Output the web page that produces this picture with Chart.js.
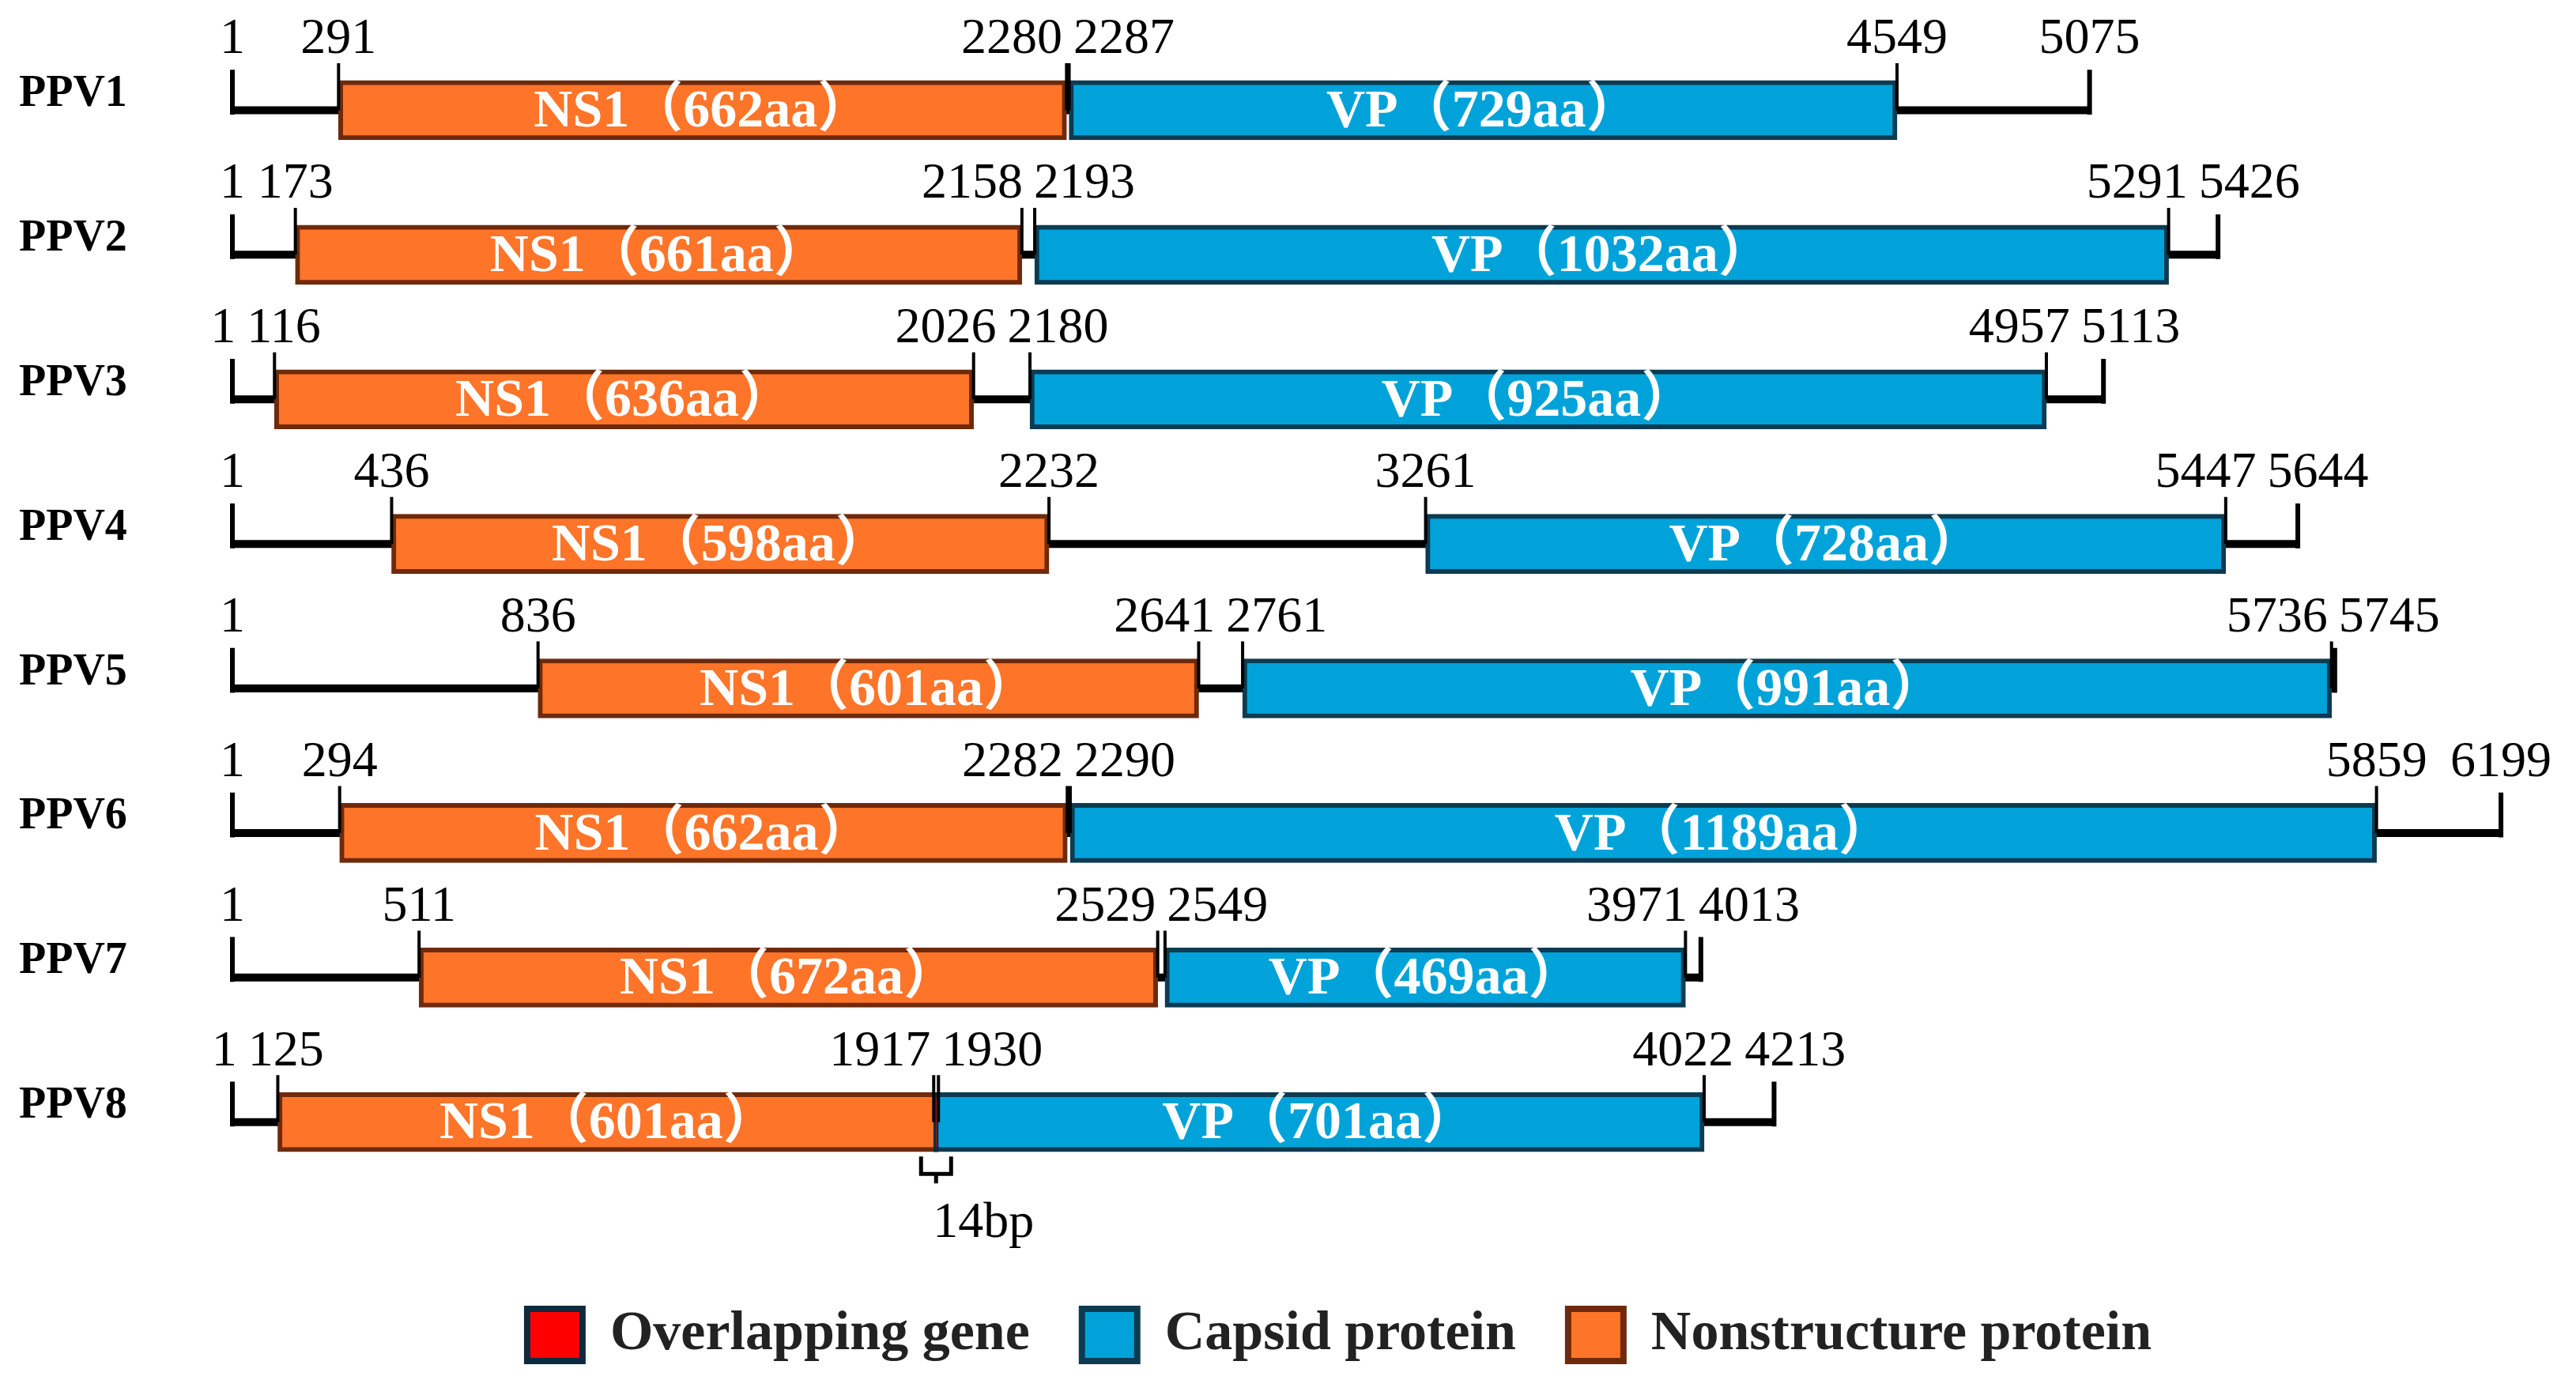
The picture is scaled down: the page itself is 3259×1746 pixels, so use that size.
<!DOCTYPE html>
<html><head><meta charset="utf-8">
<script src="https://cdn.jsdelivr.net/npm/chart.js@4.4.1/dist/chart.umd.min.js"></script>
<style>html,body{margin:0;padding:0;background:#fff}#wrap{width:3259px;height:1746px;position:relative}</style>
</head><body><div id="wrap"><canvas id="c"></canvas></div>
<script>
// ---- data ----
const rows = ['PPV1','PPV2','PPV3','PPV4','PPV5','PPV6','PPV7','PPV8'];
const genomeLength = [5075,5426,5113,5644,5745,6199,4013,4213];
const ns1Start = [291,173,116,436,836,294,511,125];
const ns1End   = [2280,2158,2026,2232,2641,2282,2529,1930];
const ns1Length = [662,661,636,598,601,662,672,601];
const vpStart  = [2287,2193,2180,3261,2761,2290,2549,1917];
const vpEnd    = [4549,5291,4957,5447,5736,5859,3971,4022];
const vpLength = [729,1032,925,728,991,1189,469,701];
const overlapRow = ['PPV8'];
const overlapStart = [1917];
const overlapEnd = [1930];
const overlapLabel = ['14bp'];
const legendLabels = ['Overlapping gene','Capsid protein','Nonstructure protein'];

// ---- styles ----
const ORANGE = '#FE7429', ORANGE_EDGE = '#6E2A0B';
const BLUE = '#00A3D9', BLUE_EDGE = '#0C3B52';
const RED = '#FF0000', RED_EDGE = '#0D2B3E';
const SERIF = "'Liberation Serif','Times New Roman','Noto Sans CJK SC',serif";
const TICK_RISE = 0.325, END_RISE = 0.28, END_DROP = 0.03;

const rowVal = i => i + 1;

function tickLine(getPos, rise, drop) {
  const pts = [];
  rows.forEach((r, i) => {
    getPos(i).forEach(p => {
      pts.push({x: p, y: rowVal(i) - rise}, {x: p, y: rowVal(i) + drop}, {x: null, y: rowVal(i)});
    });
  });
  return pts;
}

const backbone = [];
rows.forEach((r, i) => {
  backbone.push({x: 1, y: rowVal(i)}, {x: genomeLength[i], y: rowVal(i)}, {x: null, y: rowVal(i)});
});

const lineCommon = {type: 'line', borderColor: '#000', pointRadius: 0, pointHoverRadius: 0, spanGaps: false, fill: false, tension: 0, borderCapStyle: 'butt'};

const datasets = [
  {label: legendLabels[0], type: 'bar', data: overlapRow.map((r, k) => ({y: rows.indexOf(r) + 1, x: [overlapStart[k], overlapEnd[k]]})),
   backgroundColor: RED, borderColor: RED_EDGE, borderWidth: 6, borderSkipped: false, barThickness: 75, grouped: false, order: 1},
  {label: legendLabels[1], type: 'bar', data: rows.map((r, i) => ({y: rowVal(i), x: [vpStart[i], vpEnd[i]]})),
   backgroundColor: BLUE, borderColor: BLUE_EDGE, borderWidth: 6, borderSkipped: false, barThickness: 75, grouped: false, order: 2},
  {label: legendLabels[2], type: 'bar', data: rows.map((r, i) => ({y: rowVal(i), x: [ns1Start[i], ns1End[i]]})),
   backgroundColor: ORANGE, borderColor: ORANGE_EDGE, borderWidth: 6, borderSkipped: false, barThickness: 75, grouped: false, order: 3},
  Object.assign({label: 'backbone', data: backbone, borderWidth: 10, order: 10}, lineCommon),
  Object.assign({label: 'ends', data: tickLine(i => [1, genomeLength[i]], END_RISE, END_DROP), borderWidth: 6, order: 0}, lineCommon),
  Object.assign({label: 'bounds', data: tickLine(i => [ns1Start[i], ns1End[i], vpStart[i], vpEnd[i]], TICK_RISE, 0), borderWidth: 4, order: 0}, lineCommon)
];

const annotate = {
  id: 'annotate',
  afterDatasetsDraw(chart) {
    const ctx = chart.ctx, xs = chart.scales.x, ys = chart.scales.y;
    ctx.save();
    // position numbers
    ctx.font = '64px ' + SERIF;
    ctx.fillStyle = '#000';
    ctx.textBaseline = 'alphabetic';
    ctx.textAlign = 'left';
    rows.forEach((r, i) => {
      const y = ys.getPixelForValue(rowVal(i));
      const vals = [1, ns1Start[i], ns1End[i], vpStart[i], vpEnd[i], genomeLength[i]].sort((a, b) => a - b);
      const boxes = vals.map(v => {
        const px = xs.getPixelForValue(v), w = ctx.measureText(String(v)).width;
        return {v, left: px - w / 2, w};
      });
      const gap = 14;
      for (let pass = 0; pass < 3; pass++) {
        for (let j = 1; j < boxes.length; j++) {
          const a = boxes[j - 1], b = boxes[j];
          const ov = a.left + a.w + gap - b.left;
          if (ov > 0) { a.left -= ov / 2; b.left += ov / 2; }
        }
      }
      const last = boxes[boxes.length - 1];
      if (last.left + last.w > chart.width - 6) last.left = chart.width - 6 - last.w;
      boxes.forEach(b => ctx.fillText(String(b.v), b.left, y - 72));
    });
    // gene names inside bars
    ctx.font = 'bold 68px ' + SERIF;
    ctx.fillStyle = '#fff';
    ctx.textAlign = 'center';
    ctx.textBaseline = 'middle';
    const vpMeta = chart.getDatasetMeta(1), nsMeta = chart.getDatasetMeta(2);
    rows.forEach((r, i) => {
      const n = nsMeta.data[i].getProps(['x', 'base', 'y'], true);
      ctx.fillText('NS1（' + ns1Length[i] + 'aa）', (n.x + n.base) / 2, n.y + 3);
      const v = vpMeta.data[i].getProps(['x', 'base', 'y'], true);
      ctx.fillText('VP（' + vpLength[i] + 'aa）', (v.x + v.base) / 2, v.y + 3);
    });
    // overlap bracket + label
    const ovMeta = chart.getDatasetMeta(0);
    ovMeta.data.forEach((el, k) => {
      const p = el.getProps(['x', 'base', 'y', 'height'], true);
      const l = Math.min(p.x, p.base) - 16, rr = Math.max(p.x, p.base) + 16, mid = (l + rr) / 2;
      const top = p.y + p.height / 2 + 6, h = top + 22;
      ctx.strokeStyle = '#000'; ctx.lineWidth = 5;
      ctx.beginPath();
      ctx.moveTo(l, top); ctx.lineTo(l, h); ctx.lineTo(rr, h); ctx.lineTo(rr, top);
      ctx.moveTo(mid, h); ctx.lineTo(mid, h + 12);
      ctx.stroke();
      ctx.font = '64px ' + SERIF;
      ctx.fillStyle = '#000';
      ctx.textAlign = 'left';
      ctx.textBaseline = 'alphabetic';
      ctx.fillText(overlapLabel[k], mid - 4, h + 80);
    });
    ctx.restore();
  }
};

new Chart(document.getElementById('c'), {
  type: 'bar',
  data: {labels: rows, datasets},
  plugins: [annotate],
  options: {
    indexAxis: 'y',
    responsive: true,
    maintainAspectRatio: false,
    devicePixelRatio: 1,
    animation: false,
    events: [],
    layout: {padding: {top: 48, bottom: 12, left: 14, right: -116}},
    scales: {
      x: {type: 'linear', min: -265, max: 6404, display: false, grid: {display: false}},
      y: {type: 'linear', min: 0.5, max: 8.92, reverse: true, offset: false,
          grid: {display: false, drawTicks: false, offset: false}, border: {display: false},
          afterBuildTicks: s => { s.ticks = rows.map((r, i) => ({value: rowVal(i)})); },
          ticks: {autoSkip: false, padding: 10, labelOffset: -20, color: '#000',
                  font: {family: SERIF, size: 56, weight: 'bold'},
                  callback: v => rows[Math.round(v) - 1] || ''}}
    },
    plugins: {
      tooltip: {enabled: false},
      legend: {
        position: 'bottom',
        labels: {
          boxWidth: 70, boxHeight: 66, padding: 66, color: '#222',
          font: {family: SERIF, size: 70, weight: 'bold'},
          generateLabels: chart => [0, 1, 2].map(i => {
            const ds = chart.data.datasets[i];
            return {text: ds.label, fillStyle: ds.backgroundColor, strokeStyle: ds.borderColor,
                    lineWidth: 8, datasetIndex: i, hidden: false, fontColor: '#222'};
          })
        }
      }
    }
  }
});
</script>
</body></html>
